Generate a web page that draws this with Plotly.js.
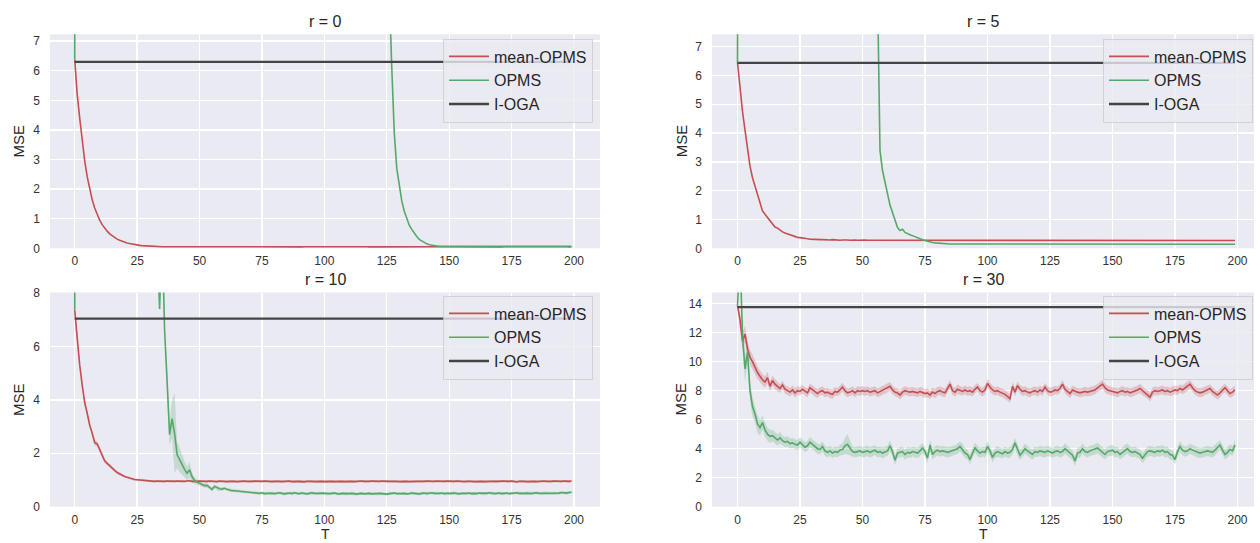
<!DOCTYPE html>
<html><head><meta charset="utf-8">
<script src="https://cdn.plot.ly/plotly-3.0.1.min.js"></script>
<style>html,body{margin:0;padding:0;background:#fff;}#chart{width:1260px;height:543px;}</style>
</head><body><div id="chart"></div>
<script>
// ---------------- DATA ----------------
const T = Array.from({length: 200}, (_, i) => i);   // time steps 0..199
const titles = ['r = 0', 'r = 5', 'r = 10', 'r = 30'];
const seriesNames = ['mean-OPMS', 'OPMS', 'I-OGA'];
const xTicks = [0, 25, 50, 75, 100, 125, 150, 175, 200];
const ioga = [6.30, 6.44, 7.04, 13.76];

const mean_r0 = [6.38,5.2,4.4,3.6,2.95,2.42,1.98,1.64,1.36,1.13,
.95,.8,.68,.58,.49,.42,.36,.31,.27,.235,
.205,.18,.16,.14,.125,.11,.1,.09,.082,.075,
.07,.065,.06,.057,.055,.053,.052,.051,.05,.051,
.05,.049,.05,.051,.05,.049,.05,.05,.051,.05,
.049,.05,.05,.051,.05,.049,.05,.051,.05,.05,
.05,.049,.05,.05,.051,.05,.049,.05,.05,.051,
.05,.05,.049,.05,.051,.05,.05,.049,.05,.05,
.051,.05,.049,.05,.05,.051,.05,.049,.05,.05,
.05,.049,.05,.051,.05,.05,.049,.05,.051,.05,
.049,.05,.05,.051,.05,.049,.05,.05,.051,.05,
.05,.051,.05,.049,.05,.05,.051,.05,.049,.05,
.05,.049,.05,.051,.05,.049,.05,.05,.051,.05,
.049,.05,.051,.05,.05,.049,.05,.051,.05,.05,
.05,.049,.05,.05,.051,.05,.049,.05,.05,.051,
.05,.05,.049,.05,.051,.05,.05,.049,.05,.05,
.051,.05,.049,.05,.05,.051,.05,.049,.05,.05,
.05,.049,.05,.051,.05,.05,.049,.05,.051,.05,
.049,.05,.05,.051,.05,.049,.05,.05,.051,.05,
.05,.051,.05,.049,.05,.05,.051,.05,.049,.05];

const opms_r0 = [6.38,96,91,88,84,81,79,76,74,71,
69,67,65,63,61,60,58,56,55,53,
52,51,49,48,47,46,45,44,43,42,
41,40,39,38.5,37.6,36.8,36,35.2,34.5,33.7,
33,32.3,31.6,31,30.3,29.7,29.1,28.5,27.9,27.3,
26.8,26.2,25.7,25.2,24.7,24.2,23.7,23.2,22.8,22.3,
21.9,21.5,21.1,20.7,20.3,19.9,19.5,19.1,18.8,18.4,
18.1,17.7,17.4,17.1,16.8,16.5,16.2,15.9,15.6,15.3,
15.1,14.8,14.6,14.3,14.1,13.9,13.6,13.4,13.2,13,
12.8,12.6,12.4,12.2,12.1,11.9,11.7,11.6,11.4,11.3,
11.1,11,10.8,10.7,10.6,10.4,10.3,10.2,10.1,10,
9.9,9.8,9.7,9.6,9.5,9.4,9.3,9.2,9.1,9.05,
9,8.95,8.9,8.85,8.8,8.75,8.7,6.1,3.9,2.7,
2.1,1.6,1.25,1,.78,.64,.5,.4,.3,.24,
.19,.15,.12,.1,.09,.08,.075,.07,.069,.07,
.071,.07,.069,.07,.07,.071,.07,.069,.07,.07,
.07,.071,.07,.069,.07,.07,.071,.07,.069,.07,
.07,.069,.07,.071,.07,.07,.069,.07,.071,.07,
.069,.07,.07,.071,.07,.069,.07,.07,.071,.07,
.07,.071,.07,.069,.07,.07,.071,.07,.069,.07];

const mean_r5 = [6.45,5.5,4.75,4.1,3.5,2.85,2.45,2.15,1.85,1.55,
1.3,1.18,1.06,.95,.84,.74,.7,.63,.57,.53,
.5,.46,.44,.42,.38,.37,.35,.34,.33,.32,
.31,.31,.3,.3,.3,.29,.3,.29,.3,.29,
.29,.28,.29,.3,.29,.28,.29,.29,.28,.29,
.28,.29,.28,.28,.29,.28,.27,.28,.29,.28,
.28,.27,.28,.28,.29,.28,.28,.27,.28,.28,
.28,.28,.27,.28,.28,.29,.28,.28,.27,.28,
.29,.28,.28,.27,.28,.28,.29,.28,.27,.28,
.28,.28,.27,.28,.29,.28,.28,.27,.28,.28,
.28,.27,.28,.28,.28,.29,.28,.27,.28,.28,
.27,.28,.28,.29,.28,.28,.27,.28,.28,.28,
.28,.28,.27,.28,.29,.28,.28,.28,.27,.28,
.28,.27,.28,.28,.28,.27,.28,.29,.28,.28,
.28,.28,.27,.28,.28,.28,.27,.28,.28,.29,
.28,.27,.28,.28,.27,.28,.28,.28,.27,.28,
.28,.28,.27,.28,.28,.27,.28,.28,.28,.27,
.28,.27,.28,.28,.27,.28,.28,.27,.28,.28,
.27,.28,.28,.27,.28,.27,.27,.28,.27,.28,
.27,.27,.28,.27,.27,.28,.27,.27,.27,.27];

const opms_r5 = [6.45,52,48,45,42,40,38,36,34.5,33,
31.5,30.2,29,27.9,26.8,25.8,24.9,24,23.2,22.4,
21.7,21,20.3,19.7,19.1,18.5,18,17.5,17,16.5,
16,15.6,15.2,14.8,14.4,14,13.7,13.4,13.1,12.8,
12.5,12.2,11.9,11.7,11.4,11.2,11,10.8,10.6,10.4,
10.2,10,9.85,9.7,9.55,9.4,9.0,3.4,2.7,2.25,
1.9,1.5,1.25,.95,.72,.62,.66,.55,.5,.47,
.44,.4,.36,.32,.3,.27,.24,.22,.2,.19,
.18,.17,.165,.16,.155,.15,.15,.15,.145,.15,
.145,.14,.145,.15,.145,.14,.145,.145,.15,.145,
.14,.145,.145,.14,.15,.145,.14,.145,.145,.14,
.145,.15,.145,.14,.145,.14,.145,.15,.145,.14,
.14,.145,.14,.145,.15,.145,.14,.14,.145,.145,
.145,.14,.145,.14,.14,.145,.15,.145,.14,.145,
.14,.145,.145,.14,.145,.14,.14,.145,.15,.145,
.145,.14,.14,.145,.14,.145,.145,.14,.145,.14,
.14,.145,.15,.145,.14,.14,.145,.14,.145,.145,
.145,.14,.145,.14,.145,.15,.145,.14,.14,.145,
.14,.145,.14,.145,.14,.145,.14,.145,.14,.14,
.145,.14,.14,.145,.14,.14,.145,.14,.14,.14];

const mean_r10 = [7.35,6.2,5.3,4.55,3.9,3.5,3.05,2.75,2.4,2.35,
2.15,1.9,1.72,1.62,1.52,1.43,1.36,1.28,1.22,1.17,
1.13,1.1,1.07,1.04,1.02,1.01,1,.99,.98,.97,
.97,.96,.95,.96,.95,.94,.95,.96,.95,.94,
.95,.96,.95,.94,.95,.96,.97,.95,.94,.95,
.96,.95,.94,.95,.96,.95,.95,.94,.96,.95,
.95,.94,.95,.96,.95,.94,.95,.95,.96,.95,
.94,.95,.96,.95,.94,.95,.96,.95,.95,.94,
.95,.96,.95,.94,.95,.95,.96,.94,.95,.96,
.95,.94,.93,.95,.96,.95,.94,.95,.96,.95,
.94,.95,.96,.95,.94,.95,.96,.95,.94,.95,
.96,.95,.94,.95,.95,.96,.95,.94,.95,.96,
.95,.94,.95,.96,.95,.94,.95,.95,.96,.95,
.94,.95,.96,.95,.94,.95,.96,.95,.95,.94,
.95,.96,.95,.94,.95,.96,.95,.94,.95,.96,
.95,.94,.95,.96,.95,.95,.94,.95,.96,.95,
.94,.95,.96,.95,.94,.95,.96,.95,.95,.94,
.95,.96,.95,.94,.95,.96,.95,.93,.95,.96,
.95,.94,.95,.96,.95,.94,.95,.95,.96,.95,
.94,.95,.96,.95,.94,.95,.96,.95,.95,.96];

const opms_r10 = [7.35,41,38,36,34,32.5,31,29.6,28.3,27.1,
26,25,24,23.1,22.2,21.4,20.6,19.9,19.2,18.5,
17.9,17.3,16.7,16.1,15.6,15.1,14.6,14.1,13.6,13.1,
12.6,12,11.2,10.2,7.4,10.5,6.6,4.7,2.7,3.3,
2.75,1.95,1.75,1.55,1.4,1.25,1.38,1.12,.98,.92,
.86,.83,.79,.8,.72,.65,.76,.7,.67,.66,
.69,.65,.62,.6,.6,.59,.57,.56,.57,.55,
.54,.52,.53,.51,.5,.52,.49,.5,.51,.5,
.49,.5,.52,.5,.48,.5,.51,.49,.52,.5,
.49,.51,.5,.48,.5,.52,.5,.49,.5,.51,
.5,.48,.49,.5,.51,.49,.48,.5,.49,.48,
.49,.5,.48,.47,.49,.5,.48,.49,.5,.48,
.49,.48,.5,.49,.48,.47,.49,.5,.51,.49,
.48,.49,.5,.48,.49,.51,.5,.49,.48,.5,
.51,.49,.5,.52,.5,.49,.5,.51,.49,.5,
.49,.5,.51,.49,.48,.5,.49,.5,.51,.49,
.5,.49,.51,.5,.49,.5,.52,.5,.49,.5,
.51,.49,.5,.51,.49,.5,.5,.52,.5,.49,
.5,.51,.5,.49,.51,.52,.5,.5,.51,.52,
.5,.51,.52,.5,.51,.53,.52,.51,.53,.54];

const sd_mean_r10 = [.05,.12,.12,.12,.12,.12,.1,.1,.12,.1,
.08,.08,.08,.07,.07,.06,.06,.06,.05,.05,
.04,.04,.04,.05,.04,.04,.04,.05,.04,.04,
.04,.05,.04,.04,.04,.04,.05,.04,.04,.04,
.04,.04,.05,.04,.04,.04,.04,.05,.04,.04,
.05,.04,.04,.04,.05,.04,.04,.04,.04,.05,
.04,.04,.04,.05,.04,.04,.05,.04,.04,.04,
.04,.05,.04,.04,.04,.05,.04,.04,.04,.04,
.05,.04,.04,.04,.04,.05,.04,.04,.05,.04,
.04,.04,.05,.04,.04,.04,.04,.05,.04,.04,
.04,.05,.04,.04,.05,.04,.04,.04,.04,.05,
.04,.04,.04,.05,.04,.04,.05,.04,.04,.04,
.05,.04,.04,.04,.04,.05,.04,.04,.04,.05,
.04,.04,.05,.04,.04,.04,.05,.04,.04,.04,
.04,.05,.04,.04,.04,.05,.04,.04,.05,.04,
.04,.04,.04,.05,.04,.04,.04,.05,.04,.04,
.05,.04,.04,.04,.05,.04,.04,.04,.04,.05,
.04,.04,.05,.04,.04,.04,.05,.04,.04,.04,
.04,.05,.04,.04,.04,.05,.04,.04,.05,.04,
.04,.04,.05,.04,.04,.04,.04,.05,.04,.04];

const sd_opms_r10 = [.05,.05,.05,.05,.05,.05,.05,.05,.05,.05,
.05,.05,.05,.05,.05,.05,.05,.05,.05,.05,
.05,.05,.05,.05,.05,.05,.05,.05,.05,.05,
.05,.05,.05,.05,.05,.05,.3,.6,.4,.7,
1.5,.5,.45,.35,.3,.25,.3,.15,.12,.1,
.08,.08,.08,.08,.08,.08,.08,.08,.08,.07,
.05,.05,.06,.05,.05,.06,.05,.05,.05,.06,
.05,.05,.06,.05,.05,.05,.06,.05,.05,.05,
.06,.05,.05,.05,.06,.05,.05,.06,.05,.05,
.05,.06,.05,.05,.05,.06,.05,.05,.06,.05,
.05,.05,.06,.05,.05,.06,.05,.05,.05,.06,
.05,.06,.05,.05,.05,.06,.05,.05,.06,.05,
.06,.05,.05,.06,.05,.05,.05,.06,.05,.05,
.05,.05,.06,.05,.05,.06,.05,.05,.05,.06,
.05,.06,.05,.05,.06,.05,.05,.05,.06,.05,
.05,.05,.06,.05,.05,.05,.06,.05,.05,.06,
.06,.05,.05,.05,.06,.05,.05,.06,.05,.05,
.05,.06,.05,.05,.05,.06,.05,.05,.06,.05,
.05,.05,.06,.05,.05,.06,.05,.05,.05,.06,
.05,.06,.05,.05,.06,.05,.05,.06,.05,.06];

const mean_r30 = [13.86,12.9,11.4,11.9,10.9,10.3,10.0,9.6,9.25,9.0,
8.75,8.6,8.9,8.3,8.7,8.45,8.3,8.15,8.4,8.1,
8.0,7.9,8.05,7.85,8.0,7.95,8.1,7.95,7.85,8.2,
8.05,7.9,7.8,7.95,8.0,7.85,7.9,7.8,7.75,7.95,
7.9,8.05,8.25,8.0,7.85,7.9,8.0,7.85,8.0,7.95,
8.0,7.95,8.0,7.9,7.95,8.0,7.85,7.95,8.05,8.1,
8.2,8.3,8.05,7.9,7.85,7.7,7.9,8.0,7.95,7.9,
7.95,7.9,7.85,7.95,7.9,7.8,7.85,7.7,7.9,7.8,
7.95,8.0,7.9,7.85,8.15,8.45,8.0,7.9,8.1,8.0,
7.95,8.05,7.95,8.0,7.9,8.1,8.25,8.0,7.9,8.05,
8.5,8.25,8.05,7.95,8.0,7.9,7.85,7.75,7.6,7.45,
8.3,7.9,8.35,8.1,7.95,8.0,7.9,7.85,7.95,8.0,
7.9,8.05,7.95,8.25,8.0,7.9,7.95,8.05,8.0,8.15,
8.45,8.1,7.95,7.8,8.05,7.95,7.9,7.85,7.9,7.95,
7.9,7.95,8.0,8.05,8.2,8.3,8.45,8.2,8.05,8.0,
7.95,7.9,7.85,7.95,8.0,7.9,7.95,7.85,7.9,7.95,
8.05,8.15,8.0,7.85,7.75,7.55,7.9,8.0,7.95,8.0,
8.05,7.95,8.0,7.9,8.0,8.05,8.0,8.15,8.05,8.2,
8.3,8.45,8.2,8.0,7.9,7.85,7.9,8.0,8.05,8.15,
7.95,7.8,7.7,7.85,8.05,8.2,8.0,7.8,7.9,8.05];

const opms_r30 = [13.86,17.5,11.8,9.5,10.65,8.0,6.9,6.4,5.7,5.45,
5.8,5.3,5.0,4.85,4.9,4.75,4.6,4.75,4.55,4.45,
4.5,4.35,4.4,4.3,4.25,4.45,4.3,4.1,4.2,4.45,
4.3,4.15,4.0,3.95,4.15,3.85,3.75,3.85,3.7,3.8,
3.75,3.9,3.95,4.2,4.3,4.05,3.8,3.75,3.8,3.85,
3.75,3.8,3.85,3.75,3.8,3.9,3.75,3.8,3.7,3.8,
3.85,4.2,3.8,3.2,3.7,3.75,3.8,3.6,3.75,3.7,
3.8,3.75,3.7,3.85,4.05,3.8,3.35,4.25,3.6,3.8,
3.9,3.8,3.85,3.8,3.75,3.8,3.85,3.9,4.0,4.15,
3.95,3.7,3.6,3.25,3.7,4.05,3.85,3.7,3.8,3.75,
4.15,3.85,3.4,3.7,3.8,3.75,3.65,3.8,3.7,3.75,
3.95,4.4,3.9,3.55,3.75,4.0,3.85,3.7,3.6,3.8,
3.75,3.85,3.8,3.75,3.85,3.8,3.7,3.8,3.85,3.75,
3.8,4.0,3.85,3.7,3.55,3.15,3.7,3.75,4.0,3.8,
3.75,3.85,3.9,3.95,4.05,3.9,3.75,3.6,3.8,3.85,
3.9,3.75,3.8,3.6,3.75,3.9,4.0,3.8,3.75,3.8,
3.7,3.6,3.35,3.6,3.8,3.85,3.8,3.75,3.85,3.8,
3.9,3.75,3.8,3.6,3.55,3.25,3.8,4.15,3.9,3.8,
3.85,4.0,3.9,3.85,3.75,3.7,3.75,3.8,3.85,3.8,
3.75,3.9,4.1,4.25,3.9,3.6,3.75,3.95,3.85,4.25];

const sd_mean_r30 = [.1,.5,.6,.6,.55,.5,.5,.45,.45,.4,
.4,.4,.4,.35,.35,.35,.35,.3,.3,.3,
.3,.28,.3,.32,.3,.28,.3,.3,.32,.3,
.3,.32,.3,.28,.3,.3,.28,.3,.32,.3,
.28,.3,.3,.32,.3,.28,.3,.3,.3,.32,
.3,.3,.28,.3,.32,.3,.3,.28,.3,.3,
.32,.3,.3,.28,.3,.3,.32,.3,.28,.3,
.3,.28,.3,.3,.32,.3,.3,.28,.3,.32,
.3,.3,.32,.3,.28,.3,.3,.3,.32,.3,
.28,.3,.3,.32,.3,.3,.28,.3,.3,.32,
.3,.32,.3,.28,.3,.3,.3,.32,.3,.28,
.3,.3,.28,.3,.32,.3,.3,.3,.28,.3,
.32,.3,.3,.28,.3,.32,.3,.3,.28,.3,
.3,.28,.3,.32,.3,.3,.28,.3,.3,.32,
.3,.3,.32,.3,.28,.3,.3,.32,.3,.3,
.28,.3,.3,.3,.32,.3,.28,.3,.3,.3,
.3,.32,.3,.28,.3,.3,.32,.3,.28,.3,
.3,.3,.28,.3,.32,.3,.3,.28,.3,.32,
.32,.3,.3,.28,.3,.3,.32,.3,.3,.28,
.3,.28,.3,.32,.3,.3,.28,.3,.32,.3];

const sd_opms_r30 = [.1,1.2,1,.9,.8,.7,.65,.6,.6,.55,
.5,.5,.45,.45,.4,.4,.4,.4,.35,.35,
.35,.35,.35,.35,.35,.35,.35,.35,.35,.35,
.35,.35,.35,.35,.35,.35,.35,.35,.35,.35,
.35,.35,.4,.55,.7,.5,.35,.35,.35,.35,
.35,.33,.35,.37,.35,.33,.35,.35,.37,.35,
.35,.37,.35,.33,.35,.35,.33,.35,.37,.35,
.33,.35,.35,.37,.35,.33,.35,.35,.35,.37,
.35,.35,.33,.35,.37,.35,.35,.33,.35,.35,
.37,.35,.35,.33,.35,.35,.37,.35,.33,.35,
.35,.33,.35,.35,.37,.35,.35,.33,.35,.37,
.35,.35,.37,.35,.33,.35,.35,.35,.37,.35,
.33,.35,.35,.37,.35,.35,.33,.35,.35,.37,
.35,.37,.35,.33,.35,.35,.35,.37,.35,.33,
.35,.35,.33,.35,.37,.35,.35,.35,.33,.35,
.37,.35,.35,.33,.35,.37,.35,.35,.33,.35,
.35,.33,.35,.37,.35,.35,.33,.35,.35,.37,
.35,.35,.37,.35,.33,.35,.35,.37,.35,.35,
.33,.35,.35,.35,.37,.35,.33,.35,.35,.35,
.35,.37,.35,.33,.35,.35,.37,.35,.33,.35];

// ---------------- LAYOUT / STYLE ----------------
const W = 1260, H = 543;
const FONT = '"Liberation Sans", Arial, sans-serif';
const RED = '#C44E52', GREEN = '#55A868', BLACK = '#444444';
const RED_FILL = 'rgba(196,78,82,0.25)', GREEN_FILL = 'rgba(85,168,104,0.25)';

const panels = [
  {mean: mean_r0,  opms: opms_r0,  sdMean: null,        sdOpms: null,        yMax: 7.23,  dy: 1, px: [50, 600],  py: [34.3, 248.3],  xr: [-9.9, 210.4],  leg: [593, 38.5],  titleY: 21,  labX: 18.3, showT: false},
  {mean: mean_r5,  opms: opms_r5,  sdMean: null,        sdOpms: null,        yMax: 7.43,  dy: 1, px: [712, 1254], py: [34.3, 248.3], xr: [-10.2, 206.6], leg: [1253, 38.5], titleY: 21,  labX: 681,  showT: false},
  {mean: mean_r10, opms: opms_r10, sdMean: sd_mean_r10, sdOpms: sd_opms_r10, yMax: 8.02,  dy: 2, px: [50, 600],  py: [292.5, 506.7], xr: [-9.9, 210.4],  leg: [593, 295.5], titleY: 279, labX: 18.3, showT: true},
  {mean: mean_r30, opms: opms_r30, sdMean: sd_mean_r30, sdOpms: sd_opms_r30, yMax: 14.77, dy: 2, px: [712, 1254], py: [292.5, 506.7], xr: [-10.2, 206.6], leg: [1253, 295.5], titleY: 279, labX: 681,  showT: true}
];

function band(y, sd, fill, xa, ya, lg) {
  const up = y.map((v, i) => v + sd[i]);
  const lo = y.map((v, i) => v - sd[i]);
  return {x: T.concat(T.slice().reverse()), y: up.concat(lo.reverse()), xaxis: xa, yaxis: ya,
    type: 'scatter', mode: 'lines', fill: 'toself', fillcolor: fill, line: {width: 0, color: 'rgba(0,0,0,0)'},
    showlegend: false, hoverinfo: 'skip', legend: lg};
}

const traces = [];
const layout = {
  width: W, height: H, margin: {l: 0, r: 0, t: 0, b: 0},
  paper_bgcolor: '#ffffff', plot_bgcolor: '#EAEAF2',
  font: {family: FONT, color: '#262626'},
  showlegend: true, hovermode: false, annotations: []
};

panels.forEach((p, i) => {
  const s = i === 0 ? '' : String(i + 1);
  const xa = 'x' + s, ya = 'y' + s, lg = 'legend' + s;
  if (p.sdMean) traces.push(band(p.mean, p.sdMean, RED_FILL, xa, ya, lg));
  if (p.sdOpms) traces.push(band(p.opms, p.sdOpms, GREEN_FILL, xa, ya, lg));
  traces.push({x: T, y: p.mean, xaxis: xa, yaxis: ya, type: 'scatter', mode: 'lines', name: seriesNames[0],
    line: {color: RED, width: 1.6}, legend: lg});
  traces.push({x: T, y: p.opms, xaxis: xa, yaxis: ya, type: 'scatter', mode: 'lines', name: seriesNames[1],
    line: {color: GREEN, width: 1.6}, legend: lg});
  traces.push({x: [T[0], T[T.length - 1]], y: [ioga[i], ioga[i]], xaxis: xa, yaxis: ya, type: 'scatter', mode: 'lines',
    name: seriesNames[2], line: {color: BLACK, width: 2.3}, legend: lg});

  layout['xaxis' + s] = {
    domain: [p.px[0] / W, p.px[1] / W], range: p.xr, anchor: ya,
    tickmode: 'array', tickvals: xTicks, ticktext: xTicks.map(String),
    showgrid: true, gridcolor: '#ffffff', gridwidth: 1.4, zeroline: false, showline: false,
    ticks: '', ticklabelstandoff: 4, tickfont: {family: FONT, size: 12, color: '#333333'}, fixedrange: true
  };
  layout['yaxis' + s] = {
    domain: [1 - p.py[1] / H, 1 - p.py[0] / H], range: [0, p.yMax], anchor: xa,
    tick0: 0, dtick: p.dy,
    showgrid: true, gridcolor: '#ffffff', gridwidth: 1.4, zeroline: false, showline: false,
    ticks: '', ticklabelstandoff: 9, tickfont: {family: FONT, size: 12, color: '#333333'}, fixedrange: true
  };
  layout[lg] = {
    x: p.leg[0] / W, y: 1 - p.leg[1] / H, xanchor: 'right', yanchor: 'top',
    bgcolor: 'rgba(234,234,242,0.8)', bordercolor: 'rgba(204,204,204,0.8)', borderwidth: 1,
    font: {family: FONT, size: 16, color: '#262626'}, traceorder: 'normal', itemwidth: 40
  };
  layout.annotations.push({
    text: titles[i], xref: 'paper', yref: 'paper', x: (p.px[0] + p.px[1]) / 2 / W, y: 1 - p.titleY / H,
    xanchor: 'center', yanchor: 'middle', showarrow: false, font: {family: FONT, size: 16, color: '#262626'}
  });
  layout.annotations.push({
    text: 'MSE', xref: 'paper', yref: 'paper', x: p.labX / W, y: 1 - (p.py[0] + p.py[1]) / 2 / H,
    xanchor: 'center', yanchor: 'middle', textangle: -90, showarrow: false, font: {family: FONT, size: 15, color: '#262626'}
  });
  if (p.showT) layout.annotations.push({
    text: 'T', xref: 'paper', yref: 'paper', x: (p.px[0] + p.px[1]) / 2 / W, y: 0,
    xanchor: 'center', yanchor: 'bottom', borderpad: 0, showarrow: false, font: {family: FONT, size: 14, color: '#262626'}
  });
});

Plotly.newPlot('chart', traces, layout, {displayModeBar: false, staticPlot: true});
</script>
</body></html>
